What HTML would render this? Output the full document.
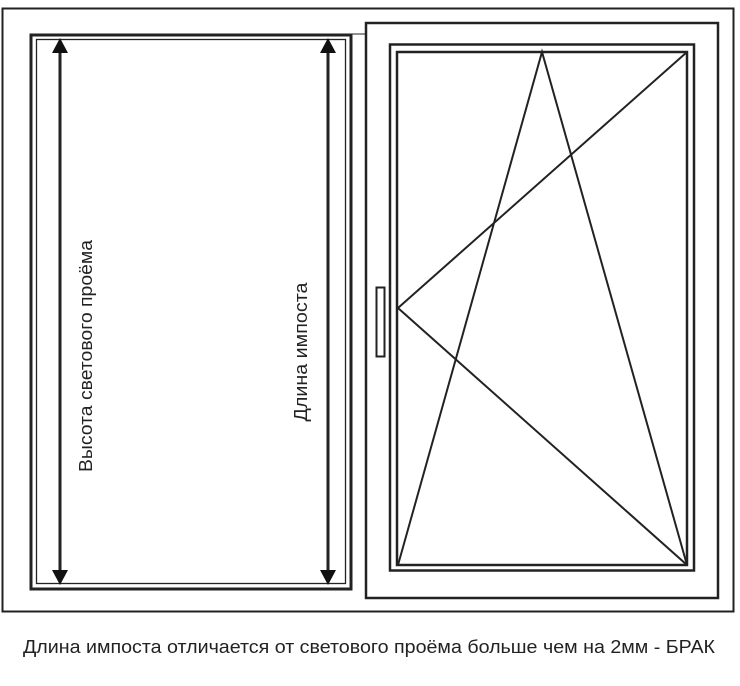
<!DOCTYPE html>
<html><head><meta charset="utf-8"><style>
html,body{margin:0;padding:0;background:#fff;}
svg{display:block;}
</style></head><body>
<svg width="740" height="686" viewBox="0 0 740 686" xmlns="http://www.w3.org/2000/svg">
<rect width="740" height="686" fill="#fff"/>
<g fill="none" stroke="#222">
<rect x="2.5" y="8.5" width="731" height="603" stroke-width="2"/>
<rect x="31" y="35" width="320" height="554" stroke-width="3"/>
<rect x="36.5" y="39.5" width="309" height="544" stroke-width="1.3"/>
<line x1="351" y1="34" x2="366" y2="34" stroke-width="1"/>
<rect x="366" y="23" width="352" height="575" stroke-width="2.5"/>
<rect x="390" y="44.5" width="304" height="526" stroke-width="2.5"/>
<rect x="397" y="52" width="290" height="513" stroke-width="2.5"/>
<rect x="376.5" y="287.5" width="8" height="69" stroke-width="2"/>
<polyline points="398,565 542,52 687,565" stroke-width="2"/>
<polyline points="687,52 398,308 687,565" stroke-width="2"/>
<line x1="60" y1="52" x2="60" y2="572" stroke-width="3"/>
<line x1="328" y1="52" x2="328" y2="572" stroke-width="3"/>
</g>
<g fill="#111">
<polygon points="60,38 52,53 68,53"/>
<polygon points="60,585 52,570 68,570"/>
<polygon points="328,38 320,53 336,53"/>
<polygon points="328,585 320,570 336,570"/>
</g>
<g font-family="Liberation Sans, sans-serif" font-size="18" fill="#222">
<text transform="translate(92,356) rotate(-90)" text-anchor="middle" textLength="232" lengthAdjust="spacingAndGlyphs">Высота светового проёма</text>
<text transform="translate(307,352) rotate(-90)" text-anchor="middle" textLength="139" lengthAdjust="spacingAndGlyphs">Длина импоста</text>
<text x="369" y="653" text-anchor="middle" font-size="18" textLength="692" lengthAdjust="spacingAndGlyphs">Длина импоста отличается от светового проёма больше чем на 2мм - БРАК</text>
</g>
</svg>
</body></html>
